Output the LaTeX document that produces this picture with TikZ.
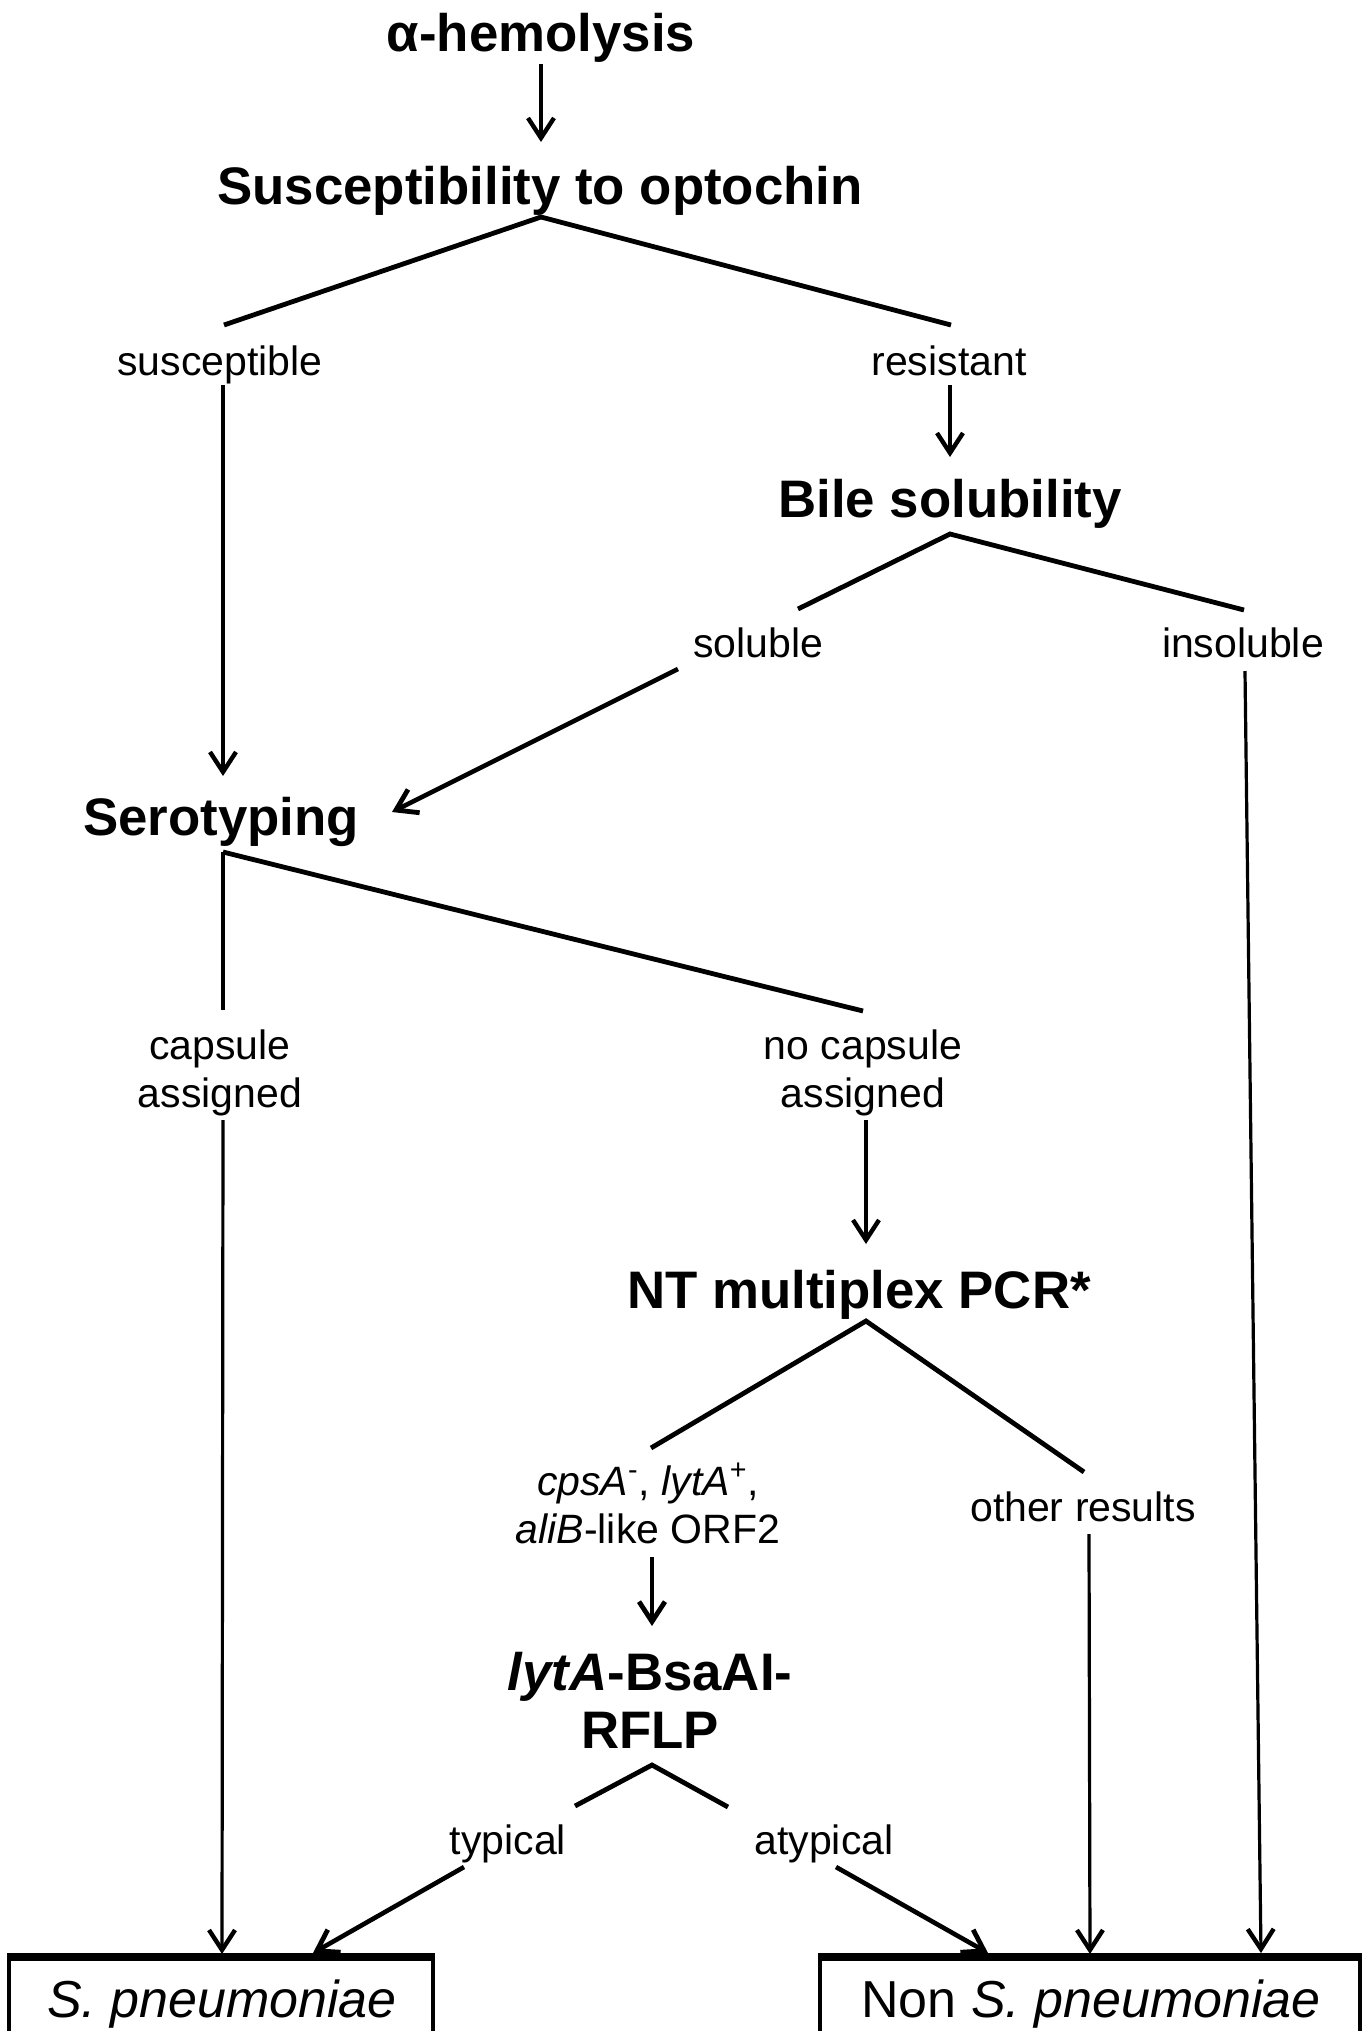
\documentclass[tikz,border=0pt]{standalone}
\usepackage{fontspec}
\setmainfont{Liberation Sans}
\usetikzlibrary{arrows.meta}
\begin{document}
\begin{tikzpicture}[x=0.5pt,y=-0.5pt,
  hd/.style={font=\fontsize{26.4pt}{29pt}\selectfont\bfseries, inner sep=0pt, anchor=base},
  lb/.style={font=\fontsize{20.5pt}{24pt}\selectfont, inner sep=0pt, anchor=base},
  bxt/.style={font=\fontsize{26pt}{30pt}\selectfont, inner sep=0pt, anchor=base},
  varrow/.style={line width=1.6pt, -{Straight Barb[length=10pt,width=13pt,line width=2.2pt]}},
  darrow/.style={line width=2.3pt, -{Straight Barb[length=10pt,width=13pt,line width=2.4pt]}},
  branch/.style={line width=2.4pt},
  vline/.style={line width=1.6pt},
  boxside/.style={line width=2.2pt},
  boxtop/.style={line width=3.8pt}]
\clip (0,0) rectangle (1369,2031);
\fill[white] (0,0) rectangle (1369,2031);

% texts
\node[hd] (alpha) at (541,51) {α-hemolysis};
\node[hd] (opt) at (540,204) {Susceptibility to optochin};
\node[lb] (susc) at (220,375) {susceptible};
\node[lb] (resi) at (949,375) {resistant};
\node[hd] (bile) at (950,517) {Bile solubility};
\node[lb] (solu) at (758,657) {soluble};
\node[lb] (inso) at (1243,657) {insoluble};
\node[hd] (sero) at (221,835) {Serotyping};
\node[lb] (capa) at (220,1059) {capsule};
\node[lb] (capb) at (220,1107) {assigned};
\node[lb] (ncapa) at (863,1059) {no capsule};
\node[lb] (ncapb) at (863,1107) {assigned};
\node[hd] (pcr) at (859,1308) {NT multiplex PCR*};
\node[lb] (gena) at (648,1495) {\textit{cpsA}\textsuperscript{-}, \textit{lytA}\textsuperscript{+},};
\node[lb] (genb) at (648,1543) {\textit{aliB}-like ORF2};
\node[lb] (other) at (1083,1521) {other results};
\node[hd] (rfla) at (650,1690) {\textit{lytA}-BsaAI-};
\node[hd] (rflb) at (650,1748) {RFLP};
\node[lb] (typ) at (508,1854) {typical};
\node[lb] (atyp) at (824,1854) {atypical};
\node[bxt] (spt) at (222,2017) {\textit{S. pneumoniae}};
\node[bxt] (nspt) at (1091,2017) {Non \textit{S. pneumoniae}};

% coordinates
\coordinate (a1) at (541,64);
\coordinate (a2) at (541,142);
\coordinate (o0) at (541,217);
\coordinate (oL) at (224,325);
\coordinate (oR) at (951,325);
\coordinate (s1) at (223,385);
\coordinate (s2) at (223,776);
\coordinate (r1) at (950,385);
\coordinate (r2) at (950,457);
\coordinate (b0) at (950,534);
\coordinate (bL) at (798,609);
\coordinate (bR) at (1244,610);
\coordinate (sol1) at (678,669);
\coordinate (sol2) at (392,812);
\coordinate (ins1) at (1245,671);
\coordinate (ins2) at (1261,1953);
\coordinate (t0) at (223,852);
\coordinate (tL) at (223,1010);
\coordinate (tR) at (863,1011);
\coordinate (c1) at (223,1120);
\coordinate (c2) at (222,1954);
\coordinate (n1) at (866,1120);
\coordinate (n2) at (866,1244);
\coordinate (p0) at (866,1321);
\coordinate (pL) at (651,1448);
\coordinate (pR) at (1084,1472);
\coordinate (g1) at (652,1557);
\coordinate (g2) at (652,1626);
\coordinate (or1) at (1089,1534);
\coordinate (or2) at (1090,1954);
\coordinate (f0) at (652,1765);
\coordinate (fL) at (575,1806);
\coordinate (fR) at (728,1807);
\coordinate (ty1) at (464,1867);
\coordinate (ty2) at (313,1953);
\coordinate (at1) at (836,1867);
\coordinate (at2) at (988,1953);

% connectors
\draw[varrow] (a1) -- (a2);
\draw[branch] (oL) -- (o0) -- (oR);
\draw[varrow] (s1) -- (s2);
\draw[varrow] (r1) -- (r2);
\draw[branch] (bL) -- (b0) -- (bR);
\draw[darrow] (sol1) -- (sol2);
\draw[varrow] (ins1) -- (ins2);
\draw[vline] (tL) -- (t0);
\draw[branch] (t0) -- (tR);
\draw[varrow] (c1) -- (c2);
\draw[varrow] (n1) -- (n2);
\draw[branch] (pL) -- (p0) -- (pR);
\draw[darrow] (g1) -- (g2);
\draw[varrow] (or1) -- (or2);
\draw[branch] (fL) -- (f0) -- (fR);
\draw[darrow] (ty1) -- (ty2);
\draw[darrow] (at1) -- (at2);

% boxes
\draw[boxside] (9,2060) -- (9,1957) -- (433,1957) -- (433,2060);
\draw[boxtop] (7,1957) -- (435,1957);
\draw[boxside] (820,2060) -- (820,1957) -- (1360,1957) -- (1360,2060);
\draw[boxtop] (818,1957) -- (1362,1957);
\end{tikzpicture}
\end{document}
